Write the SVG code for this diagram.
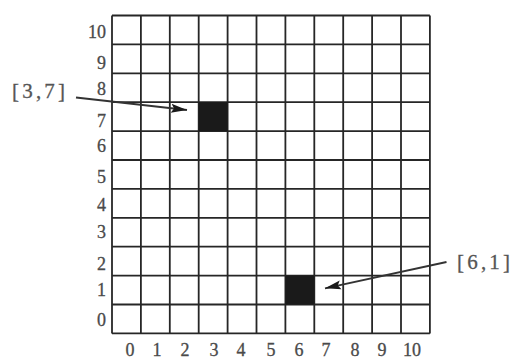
<svg xmlns="http://www.w3.org/2000/svg" width="513" height="359" viewBox="0 0 513 359">
<style>
.grid line{stroke:#262626;stroke-width:1.8}
.ax{font-family:"Liberation Serif","DejaVu Serif",serif;font-size:18px;fill:#4a4a4a;stroke:#4a4a4a;stroke-width:0.3}
.ay{text-anchor:end}
.axx{text-anchor:middle}
.lbl{font-family:"Liberation Serif","DejaVu Serif",serif;font-size:21px;fill:#555;stroke:#555;stroke-width:0.3}
.cell{fill:#1a1a1a}
.arr{stroke:#333;stroke-width:1.8;fill:none}
</style>
<defs>
<marker id="ah" markerUnits="userSpaceOnUse" markerWidth="18" markerHeight="12" viewBox="0 0 18 12" refX="16" refY="6" orient="auto">
<path d="M0,1.5 L16,6 L0,10.5 L3,6 Z" fill="#1a1a1a"/>
</marker>
</defs>
<rect width="513" height="359" fill="#fff"/>
<g class="grid">
<line x1="112" y1="15.5" x2="112" y2="333.4"/>
<line x1="140.9" y1="15.5" x2="140.9" y2="333.4"/>
<line x1="169.8" y1="15.5" x2="169.8" y2="333.4"/>
<line x1="198.7" y1="15.5" x2="198.7" y2="333.4"/>
<line x1="227.6" y1="15.5" x2="227.6" y2="333.4"/>
<line x1="256.5" y1="15.5" x2="256.5" y2="333.4"/>
<line x1="285.4" y1="15.5" x2="285.4" y2="333.4"/>
<line x1="314.3" y1="15.5" x2="314.3" y2="333.4"/>
<line x1="343.2" y1="15.5" x2="343.2" y2="333.4"/>
<line x1="372.1" y1="15.5" x2="372.1" y2="333.4"/>
<line x1="401" y1="15.5" x2="401" y2="333.4"/>
<line x1="429.9" y1="15.5" x2="429.9" y2="333.4"/>
<line x1="112" y1="15.5" x2="429.9" y2="15.5"/>
<line x1="112" y1="44.4" x2="429.9" y2="44.4"/>
<line x1="112" y1="73.3" x2="429.9" y2="73.3"/>
<line x1="112" y1="102.2" x2="429.9" y2="102.2"/>
<line x1="112" y1="131.1" x2="429.9" y2="131.1"/>
<line x1="112" y1="160" x2="429.9" y2="160"/>
<line x1="112" y1="188.9" x2="429.9" y2="188.9"/>
<line x1="112" y1="217.8" x2="429.9" y2="217.8"/>
<line x1="112" y1="246.7" x2="429.9" y2="246.7"/>
<line x1="112" y1="275.6" x2="429.9" y2="275.6"/>
<line x1="112" y1="304.5" x2="429.9" y2="304.5"/>
<line x1="112" y1="333.4" x2="429.9" y2="333.4"/>
</g>
<g id="yaxis" class="ax ay">
<text x="106" y="38">10</text>
<text x="106" y="69">9</text>
<text x="106" y="95">8</text>
<text x="106" y="127">7</text>
<text x="106" y="152">6</text>
<text x="106" y="183">5</text>
<text x="106" y="211">4</text>
<text x="106" y="238">3</text>
<text x="106" y="270">2</text>
<text x="106" y="296">1</text>
<text x="106" y="326">0</text>
</g>
<g id="xaxis" class="ax axx">
<text x="130" y="356">0</text>
<text x="157" y="356">1</text>
<text x="185" y="356">2</text>
<text x="214" y="356">3</text>
<text x="241" y="356">4</text>
<text x="271" y="356">5</text>
<text x="299" y="356">6</text>
<text x="326" y="356">7</text>
<text x="355" y="356">8</text>
<text x="382" y="356">9</text>
<text x="412" y="356">10</text>
</g>
<g id="cell-3-7"><rect class="cell" x="198.7" y="102.2" width="28.9" height="28.9"/></g>
<g id="cell-6-1"><rect class="cell" x="285.4" y="275.6" width="28.9" height="28.9"/></g>
<g id="label-3-7"><text class="lbl" x="12" y="98" textLength="53" lengthAdjust="spacing">[3,7]</text></g>
<g id="label-6-1"><text class="lbl" x="457" y="268.5" textLength="53" lengthAdjust="spacing">[6,1]</text></g>
<g id="connectors">
<line class="arr" x1="76" y1="97.5" x2="187" y2="110" marker-end="url(#ah)"/>
<line class="arr" x1="446.5" y1="262" x2="325" y2="288.3" marker-end="url(#ah)"/>
</g>
</svg>
